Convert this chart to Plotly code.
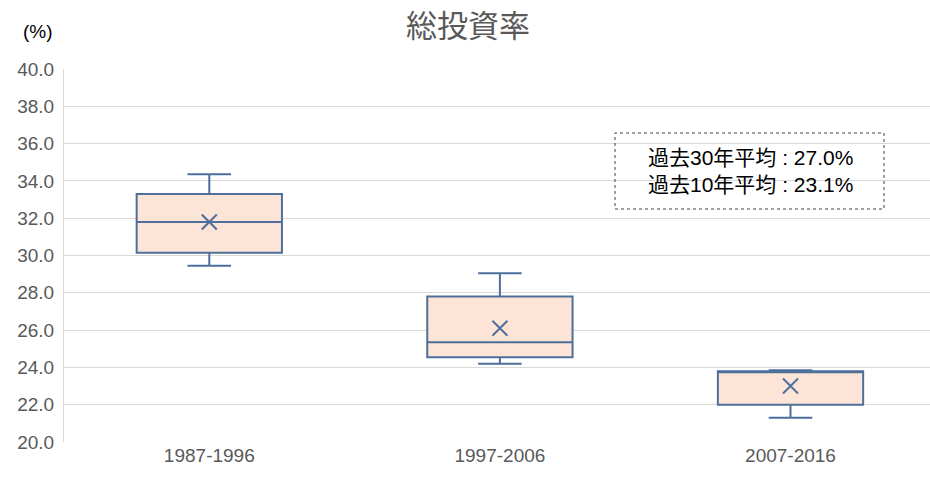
import plotly.graph_objects as go

# Period categories and box statistics (%)
periods = ["1987-1996", "1997-2006", "2007-2016"]
lower_whisker = [29.45, 24.2, 21.3]
q1 = [30.15, 24.55, 22.0]
median = [31.8, 25.35, 23.75]
q3 = [33.3, 27.8, 23.8]
upper_whisker = [34.35, 29.05, 23.85]
mean = [31.8, 26.1, 23.0]

y_ticks = [20, 22, 24, 26, 28, 30, 32, 34, 36, 38, 40]
note_lines = ["過去30年平均 : 27.0%", "過去10年平均 : 23.1%"]

LINE = "#4E6F9C"
FILL = "#FCE5D6"
GRID = "#D9D9D9"
TEXT = "#595959"
FONT = "Liberation Sans, Noto Sans CJK JP, sans-serif"

fig = go.Figure()

fig.add_trace(go.Box(
    x=periods,
    q1=q1,
    median=median,
    q3=q3,
    lowerfence=lower_whisker,
    upperfence=upper_whisker,
    width=0.5,
    whiskerwidth=0.3,
    fillcolor=FILL,
    line=dict(color=LINE, width=2),
    hoverinfo="skip",
    showlegend=False,
))

fig.add_trace(go.Scatter(
    x=periods,
    y=mean,
    mode="markers",
    marker=dict(symbol="x-thin-open", size=15, color=LINE,
                line=dict(color=LINE, width=2)),
    hoverinfo="skip",
    showlegend=False,
))

fig.update_layout(
    width=930,
    height=486,
    margin=dict(l=64, r=0, t=69, b=44),
    paper_bgcolor="white",
    plot_bgcolor="white",
    font=dict(family=FONT, color=TEXT, size=19),
    xaxis=dict(
        type="category",
        range=[-0.5, 2.48],
        showgrid=False,
        showline=False,
        ticks="",
        tickfont=dict(size=19, color=TEXT),
    ),
    yaxis=dict(
        range=[20, 40],
        tickvals=y_ticks,
        ticktext=[f"{v:.1f}" for v in y_ticks],
        showgrid=True,
        gridcolor=GRID,
        gridwidth=1,
        zeroline=False,
        showline=True,
        linecolor=GRID,
        linewidth=1,
        ticks="",
        ticklabelstandoff=5,
        tickfont=dict(size=19, color=TEXT),
    ),
)

# Chart title
fig.add_annotation(
    text="総投資率", xref="paper", yref="paper",
    x=(468 - 64) / 866, y=(442 - 24) / 373,
    xanchor="center", yanchor="middle",
    showarrow=False,
    font=dict(family="Noto Sans CJK JP, sans-serif", size=31, color=TEXT),
)

# Unit label above the value axis
fig.add_annotation(
    text="(%)", xref="paper", yref="paper",
    x=-0.05, y=1.1, xanchor="left", yanchor="middle",
    showarrow=False, font=dict(size=19, color="#000000"),
)

# Averages note in a dotted frame
fig.add_shape(
    type="rect", xref="paper", yref="paper",
    x0=(615 - 64) / 866, x1=(884 - 64) / 866,
    y0=(442 - 209) / 373, y1=(442 - 133) / 373,
    line=dict(color="#404040", width=1, dash="dot"),
    fillcolor="rgba(255,255,255,0)",
)
fig.add_annotation(
    text="<br>".join(note_lines), xref="paper", yref="paper",
    x=(750 - 64) / 866, y=(442 - 171) / 373,
    xanchor="center", yanchor="middle", align="center",
    showarrow=False,
    font=dict(family=FONT, size=21, color="#000000"),
)

fig.write_html("out.html")
